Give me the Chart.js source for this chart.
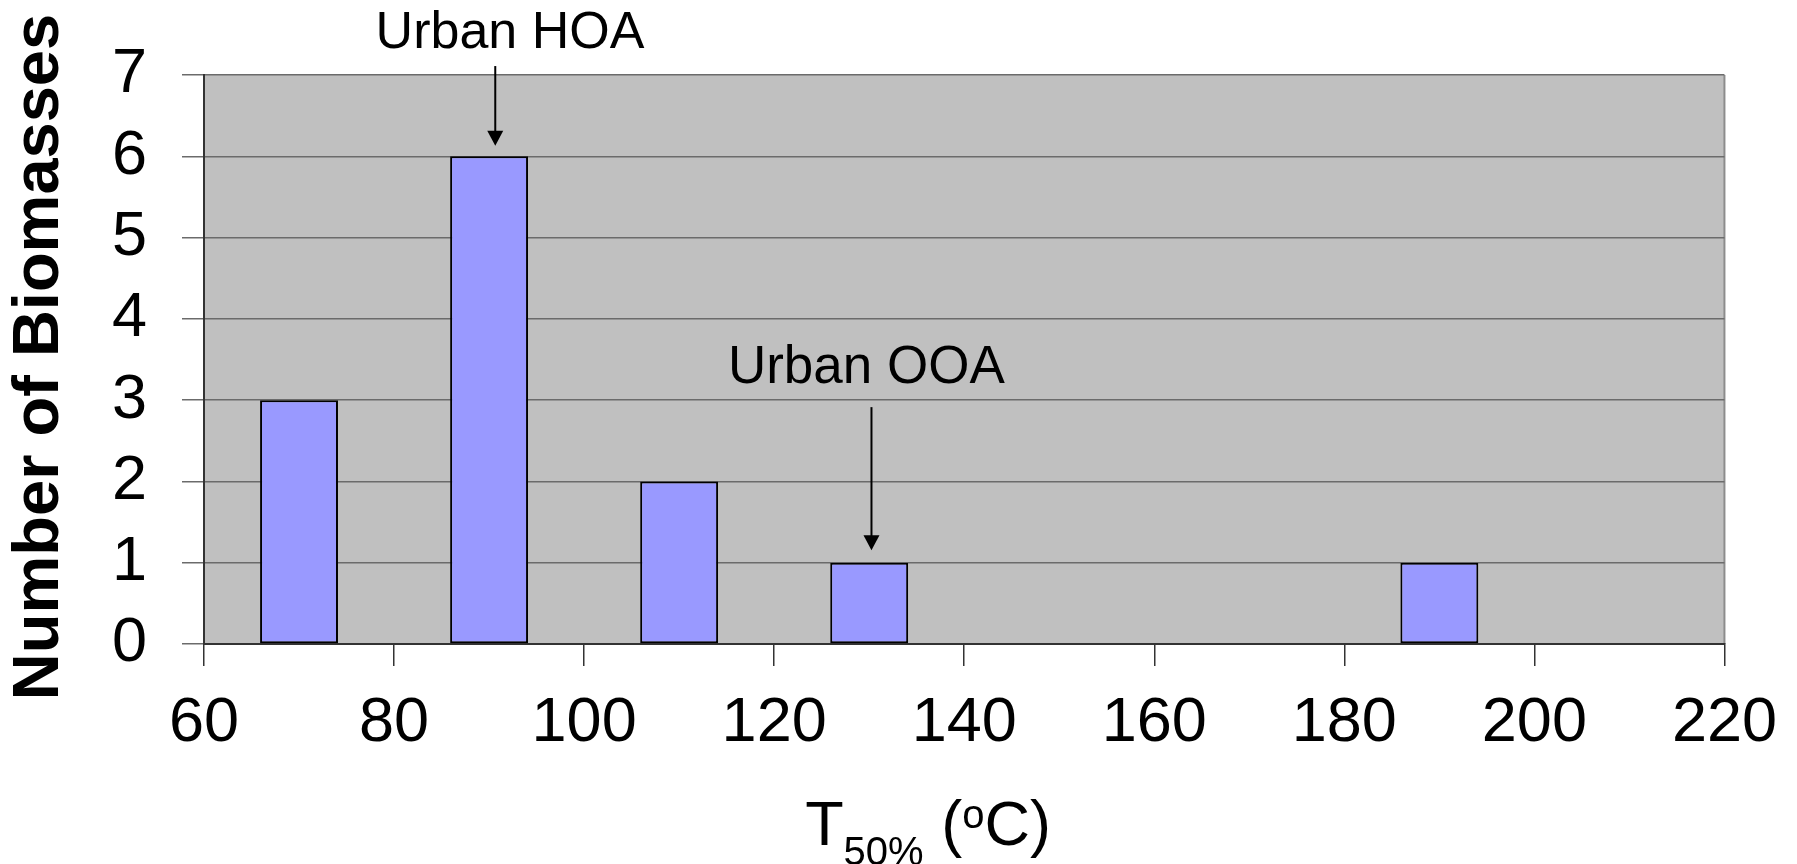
<!DOCTYPE html>
<html>
<head>
<meta charset="utf-8">
<script src="https://cdn.jsdelivr.net/npm/chart.js@4.4.1/dist/chart.umd.min.js"></script>
<style>
  html, body { margin: 0; padding: 0; background: #fff; }
  canvas { display: block; }
</style>
</head>
<body>
<canvas id="histChart" width="1797" height="864"></canvas>
<script>
/* ── DATA ─────────────────────────────────────────────── */
const binCenters    = [70, 90, 110, 130, 190];   // T50% bin centres (°C)
const biomassCounts = [3, 6, 2, 1, 1];
const xTickValues   = [60, 80, 100, 120, 140, 160, 180, 200, 220];
const yTickValues   = [0, 1, 2, 3, 4, 5, 6, 7];

const FONT = "'Liberation Sans', Arial, sans-serif";

/* ── PLOT BACKGROUND + RIGHT FRAME ───────────────────── */
const plotArea = {
  id: 'plotArea',
  beforeDraw(chart) {
    const { ctx, chartArea: a } = chart;
    ctx.save();
    ctx.fillStyle = '#c0c0c0';
    ctx.fillRect(a.left, a.top, a.width, a.height);
    ctx.strokeStyle = '#8c8c8c';
    ctx.lineWidth = 2;
    ctx.beginPath();
    ctx.moveTo(a.right, a.top);
    ctx.lineTo(a.right, a.bottom);
    ctx.stroke();
    ctx.restore();
  }
};

/* ── AXIS TITLES + ARROW LABELS ──────────────────────── */
function drawArrow(ctx, x, yTop, yTip) {
  ctx.beginPath();
  ctx.moveTo(x, yTop);
  ctx.lineTo(x, yTip - 12);
  ctx.stroke();
  ctx.beginPath();
  ctx.moveTo(x - 8, yTip - 15);
  ctx.lineTo(x + 8, yTip - 15);
  ctx.lineTo(x, yTip);
  ctx.closePath();
  ctx.fill();
}

const titlesAndNotes = {
  id: 'titlesAndNotes',
  afterDraw(chart) {
    const { ctx } = chart;
    const xs = chart.scales.x, ys = chart.scales.y;
    ctx.save();
    ctx.fillStyle = '#000';
    ctx.strokeStyle = '#000';
    ctx.lineWidth = 2;

    // y title
    ctx.save();
    ctx.translate(40, 357);
    ctx.rotate(-Math.PI / 2);
    ctx.font = `bold 65px ${FONT}`;
    ctx.textAlign = 'center';
    ctx.textBaseline = 'middle';
    ctx.fillText('Number of Biomasses', 0, 0);
    ctx.restore();

    // x title: T50% (oC) with sub/superscript
    const big = `63px ${FONT}`, small = `40px ${FONT}`;
    const parts = [
      { t: 'T', f: big, dy: 0 },
      { t: '50%', f: small, dy: 20 },
      { t: ' (', f: big, dy: 0 },
      { t: 'o', f: small, dy: -17 },
      { t: 'C)', f: big, dy: 0 }
    ];
    let total = 0;
    parts.forEach(p => { ctx.font = p.f; p.w = ctx.measureText(p.t).width; total += p.w; });
    let cx = 928 - total / 2;
    ctx.textAlign = 'left';
    ctx.textBaseline = 'alphabetic';
    parts.forEach(p => { ctx.font = p.f; ctx.fillText(p.t, cx, 845 + p.dy); cx += p.w; });

    // annotations
    ctx.textAlign = 'center';
    ctx.font = `52px ${FONT}`;
    ctx.fillText('Urban HOA', xs.getPixelForValue(92.2), ys.getPixelForValue(7.335));
    drawArrow(ctx, xs.getPixelForValue(90.65), ys.getPixelForValue(7.11), ys.getPixelForValue(6.13));

    ctx.font = `53px ${FONT}`;
    ctx.fillText('Urban OOA', xs.getPixelForValue(129.7), ys.getPixelForValue(3.205));
    drawArrow(ctx, xs.getPixelForValue(130.24), ys.getPixelForValue(2.914), ys.getPixelForValue(1.154));

    ctx.restore();
  }
};

/* ── CHART ───────────────────────────────────────────── */
new Chart(document.getElementById('histChart'), {
  type: 'bar',
  data: {
    datasets: [{
      data: binCenters.map((x, i) => ({ x, y: biomassCounts[i] })),
      backgroundColor: '#9999ff',
      borderColor: '#000',
      borderWidth: 2,
      borderSkipped: false,
      barPercentage: 0.41,
      categoryPercentage: 1
    }]
  },
  options: {
    responsive: false,
    animation: false,
    layout: { padding: { top: 75, right: 72, left: 0, bottom: 0 } },
    plugins: { legend: { display: false }, tooltip: { enabled: false } },
    scales: {
      x: {
        type: 'linear',
        min: 60, max: 220,
        offset: false,
        afterBuildTicks: s => { s.ticks = xTickValues.map(v => ({ value: v })); },
        afterFit: s => { s.height = 220; },
        grid: { offset: false, drawOnChartArea: false, tickLength: 22, color: '#333', lineWidth: 1.5 },
        border: { color: '#333', width: 2 },
        ticks: { font: { family: FONT, size: 63 }, color: '#000', padding: 20, maxRotation: 0 }
      },
      y: {
        min: 0, max: 7,
        afterBuildTicks: s => { s.ticks = yTickValues.map(v => ({ value: v })); },
        afterFit: s => { s.width = 204; },
        grid: { color: '#6b6b6b', lineWidth: 1.5, tickLength: 22 },
        border: { color: '#333', width: 2 },
        ticks: { font: { family: FONT, size: 63 }, color: '#000', padding: 35 }
      }
    }
  },
  plugins: [plotArea, titlesAndNotes]
});
</script>
</body>
</html>
